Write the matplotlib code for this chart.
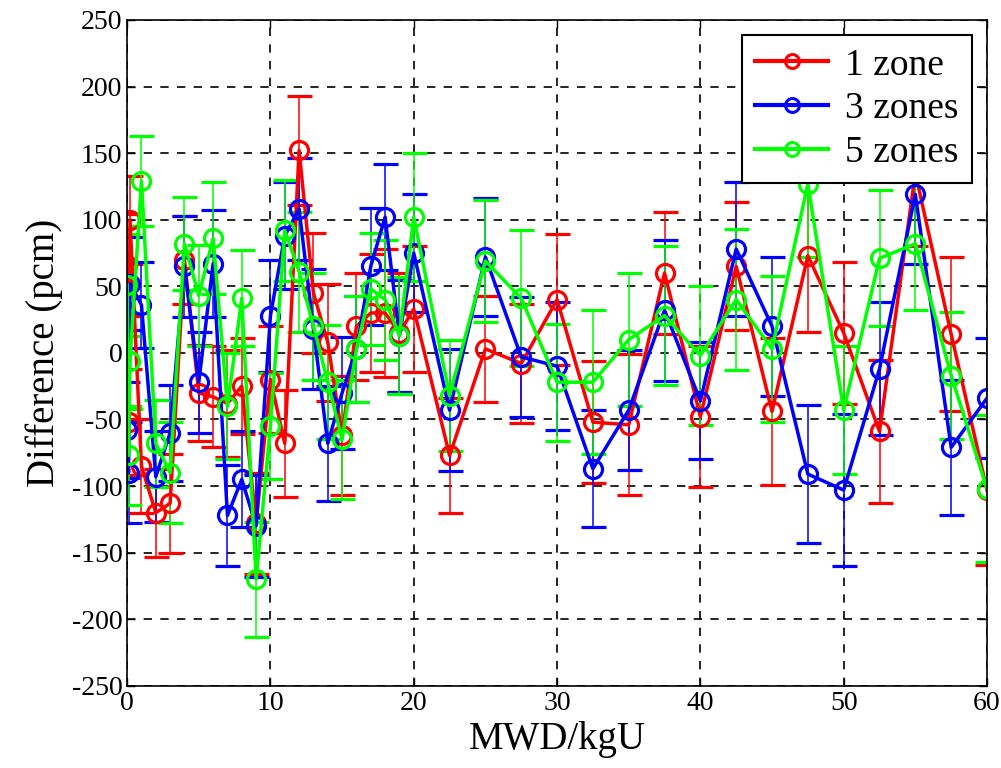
import matplotlib
matplotlib.use("Agg")
import matplotlib.pyplot as plt
from matplotlib.lines import Line2D

plt.rcParams['font.family'] = ['Liberation Serif', 'DejaVu Serif']
plt.rcParams['axes.unicode_minus'] = False

# burnup steps (MWD/kgU)
mwd = [0, 0.1, 0.2, 1, 2, 3, 4, 5, 6, 7, 8, 9, 10, 11, 12, 13, 14, 15, 16, 17, 18, 19, 20,
       22.5, 25, 27.5, 30, 32.5, 35, 37.5, 40, 42.5, 45, 47.5, 50, 52.5, 55, 57.5, 60]

zone1 = [66, -52, 100, -85, -120, -113, 70, -30, -33, -38, -25, -128, -20, -68, 152, 45, 8, -62, 20, 30, 30, 15, 33,
         -77, 3, -8, 40, -52, -54, 60, -48, 65, -44, 73, 15, -59, 135, 14, -103]
zone3 = [-58, -90, 52, 36, -93, -60, 65, -22, 67, -122, -95, -130, 28, 88, 108, 18, -68, -30, 3, 65, 102, 13, 75,
         -43, 72, -3, -10, -87, -43, 32, -36, 78, 20, -91, -103, -12, 119, -71, -34]
zone5 = [51, -77, -6, 129, -68, -90, 82, 43, 86, -40, 41, -170, -55, 92, 61, 20, -22, -65, 3, 48, 40, 13, 102,
         -32, 69, 41, -22, -22, 10, 28, -2, 40, 3, 127, -43, 71, 82, -17, -102]

zone1_err = [38, 40, 33, 35, 33, 37, 33, 36, 38, 40, 36, 38, 40, 40, 41, 45, 44, 45, 40, 44, 48, 45, 47,
             43, 40, 45, 49, 46, 53, 46, 53, 48, 55, 57, 53, 54, 55, 58, 56]
zone3_err = [36, 38, 35, 32, 34, 36, 38, 38, 40, 38, 36, 38, 42, 40, 38, 45, 43, 42, 40, 44, 40, 42, 44,
             46, 44, 45, 48, 44, 45, 53, 44, 50, 52, 52, 57, 50, 52, 51, 45]
zone5_err = [38, 37, 36, 34, 33, 38, 35, 38, 42, 40, 36, 43, 40, 38, 45, 40, 43, 45, 40, 42, 45, 44, 48,
             42, 46, 51, 44, 54, 50, 52, 52, 53, 55, 55, 48, 51, 50, 48, 55]

series = [
    ('1 zone', zone1, zone1_err, (1, 0, 0)),
    ('3 zones', zone3, zone3_err, (0, 0, 1)),
    ('5 zones', zone5, zone5_err, (0, 1, 0)),
]

fig = plt.figure(figsize=(10.01, 7.68), dpi=100)
ax = fig.add_axes([0.127, 0.107, 0.859, 0.867])

handles = []
for name, vals, err, col in series:
    ax.errorbar(mwd, vals, yerr=err, color=col, lw=2.5, marker='o', ms=13,
                mfc='none', mew=2.3, elinewidth=1.1, capsize=9, capthick=1.1)
    handles.append(Line2D([], [], color=col, lw=3, marker='o', ms=10,
                          mfc='none', mew=2.2, label=name))

ax.set_xlim(0, 60)
ax.set_ylim(-250, 250)
ax.set_xticks(range(0, 61, 10))
ax.set_yticks(range(-250, 251, 50))
ax.tick_params(direction='in', labelsize=20, length=6, width=1, top=True, right=True)
ax.grid(True, color='black', linestyle=(0, (5, 5)), linewidth=1.2)
for s in ax.spines.values():
    s.set_linewidth(1.2)

ax.set_xlabel('MWD/kgU', fontsize=28, labelpad=4)
ax.set_ylabel('Difference (pcm)', fontsize=28, labelpad=6)

leg = ax.legend(handles=handles, loc='upper right', fontsize=27, numpoints=1,
                handlelength=1.95, fancybox=False, edgecolor='black', framealpha=1,
                borderaxespad=0.4, labelspacing=0.25, handletextpad=0.45,
                borderpad=0.35)
leg.get_frame().set_linewidth(1.5)

fig.savefig('out.png', dpi=100)
